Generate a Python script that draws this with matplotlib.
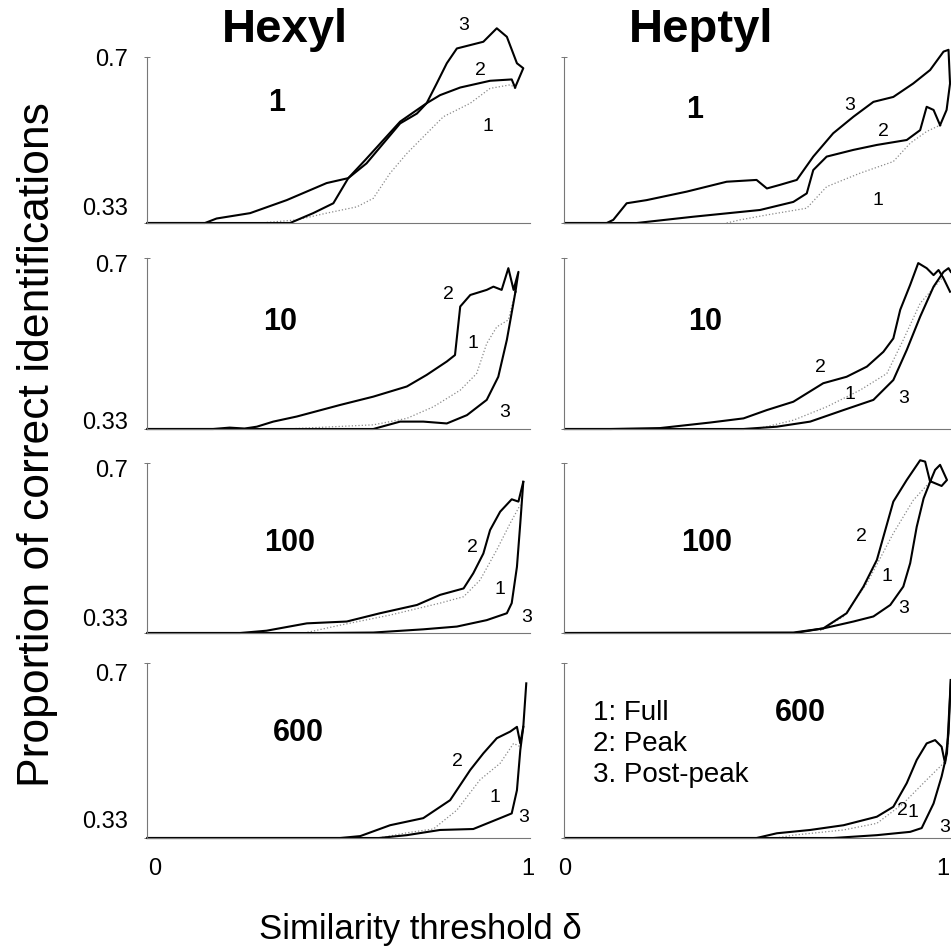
import numpy as np
import matplotlib.pyplot as plt

plt.rcParams['font.family'] = ['Liberation Sans', 'DejaVu Sans']

# ---- curves: (delta, proportion correct) ----
# row 1 (learning 1)
hex1_full = [(0.282, 0.33), (0.380, 0.337), (0.460, 0.352), (0.541, 0.366), (0.585, 0.385),
             (0.630, 0.441), (0.675, 0.485), (0.719, 0.522), (0.773, 0.567), (0.845, 0.597),
             (0.898, 0.630), (0.952, 0.638), (0.965, 0.632)]
hex1_peak = [(-0.02, 0.33), (0.134, 0.33), (0.165, 0.340), (0.255, 0.352), (0.353, 0.381),
             (0.460, 0.419), (0.518, 0.430), (0.567, 0.463), (0.657, 0.552), (0.702, 0.574),
             (0.728, 0.597), (0.764, 0.615), (0.818, 0.632), (0.898, 0.647), (0.956, 0.650),
             (0.965, 0.632)]
hex1_post = [(-0.02, 0.33), (0.362, 0.33), (0.424, 0.352), (0.478, 0.374), (0.518, 0.430),
             (0.563, 0.470), (0.657, 0.556), (0.728, 0.597), (0.755, 0.641), (0.782, 0.686),
             (0.809, 0.719), (0.880, 0.734), (0.916, 0.764), (0.943, 0.745), (0.970, 0.686),
             (0.987, 0.675), (0.965, 0.632)]

hep1_full = [(0.422, 0.33), (0.457, 0.337), (0.527, 0.348), (0.631, 0.363), (0.683, 0.411),
             (0.770, 0.441), (0.857, 0.467), (0.901, 0.508), (0.944, 0.534), (0.979, 0.548)]
hep1_peak = [(0, 0.33), (0.187, 0.33), (0.335, 0.344), (0.509, 0.359), (0.596, 0.377),
             (0.631, 0.396), (0.648, 0.448), (0.683, 0.478), (0.753, 0.493), (0.814, 0.504),
             (0.892, 0.515), (0.927, 0.537), (0.944, 0.589), (0.962, 0.582), (0.979, 0.548)]
hep1_post = [(0, 0.33), (0.109, 0.33), (0.126, 0.337), (0.161, 0.374), (0.213, 0.381),
             (0.318, 0.400), (0.422, 0.422), (0.500, 0.426), (0.527, 0.407), (0.561, 0.415),
             (0.605, 0.426), (0.648, 0.478), (0.700, 0.530), (0.753, 0.567), (0.805, 0.600),
             (0.857, 0.611), (0.909, 0.641), (0.953, 0.671), (0.988, 0.712), (1.001, 0.716),
             (1.005, 0.641), (0.996, 0.582), (0.979, 0.548)]

# row 2 (learning 10)
hex2_full = [(0.35, 0.33), (0.585, 0.339), (0.675, 0.353), (0.746, 0.378), (0.818, 0.414),
             (0.862, 0.450), (0.889, 0.515), (0.916, 0.551), (0.947, 0.566), (0.966, 0.627)]
hex2_peak = [(-0.02, 0.33), (0.156, 0.33), (0.200, 0.333), (0.240, 0.331), (0.273, 0.335),
             (0.317, 0.346), (0.380, 0.357), (0.496, 0.382), (0.585, 0.400), (0.675, 0.422),
             (0.728, 0.447), (0.782, 0.476), (0.804, 0.490), (0.818, 0.595), (0.845, 0.620),
             (0.889, 0.631), (0.907, 0.638), (0.929, 0.631), (0.947, 0.678), (0.961, 0.631),
             (0.974, 0.670), (0.966, 0.627)]
hex2_post = [(-0.02, 0.33), (0.585, 0.33), (0.657, 0.346), (0.719, 0.346), (0.782, 0.342),
             (0.836, 0.360), (0.889, 0.393), (0.920, 0.443), (0.943, 0.523), (0.966, 0.627)]

hep2_full = [(0.50, 0.33), (0.596, 0.349), (0.683, 0.378), (0.770, 0.414), (0.840, 0.450),
             (0.883, 0.523), (0.927, 0.602), (0.988, 0.660)]
hep2_peak = [(0, 0.33), (0.12, 0.33), (0.248, 0.332), (0.379, 0.344), (0.466, 0.353),
             (0.527, 0.371), (0.596, 0.389), (0.674, 0.429), (0.735, 0.443), (0.788, 0.465),
             (0.831, 0.497), (0.857, 0.526), (0.875, 0.588), (0.901, 0.642), (0.922, 0.689),
             (0.944, 0.678), (0.962, 0.663), (0.975, 0.674), (0.988, 0.656), (1.005, 0.627)]
hep2_post = [(0, 0.33), (0.466, 0.33), (0.553, 0.335), (0.640, 0.346), (0.727, 0.371),
             (0.805, 0.393), (0.857, 0.436), (0.892, 0.501), (0.927, 0.573), (0.962, 0.638),
             (0.988, 0.670), (1.001, 0.678), (1.007, 0.670)]

# row 3 (learning 100)
hex3_full = [(0.40, 0.33), (0.496, 0.347), (0.630, 0.369), (0.764, 0.395), (0.827, 0.409),
             (0.871, 0.445), (0.916, 0.511), (0.952, 0.569), (0.979, 0.609)]
hex3_peak = [(-0.02, 0.33), (0.228, 0.33), (0.299, 0.335), (0.407, 0.351), (0.514, 0.355),
             (0.603, 0.373), (0.702, 0.391), (0.764, 0.413), (0.827, 0.427), (0.853, 0.460),
             (0.880, 0.503), (0.898, 0.554), (0.925, 0.594), (0.956, 0.621), (0.974, 0.616),
             (0.987, 0.659)]
hex3_post = [(-0.02, 0.33), (0.442, 0.33), (0.585, 0.331), (0.719, 0.338), (0.809, 0.344),
             (0.889, 0.358), (0.943, 0.373), (0.956, 0.395), (0.970, 0.474), (0.979, 0.569),
             (0.987, 0.659)]

hep3_full = [(0.666, 0.335), (0.727, 0.366), (0.788, 0.438), (0.857, 0.547), (0.909, 0.619),
             (0.953, 0.659)]
hep3_peak = [(0, 0.33), (0.596, 0.331), (0.674, 0.340), (0.735, 0.373), (0.779, 0.431),
             (0.814, 0.489), (0.857, 0.616), (0.892, 0.663), (0.927, 0.706), (0.940, 0.703),
             (0.953, 0.659)]
hep3_post = [(0, 0.33), (0.60, 0.33), (0.674, 0.340), (0.753, 0.355), (0.805, 0.366),
             (0.849, 0.391), (0.883, 0.431), (0.901, 0.482), (0.918, 0.561), (0.936, 0.623),
             (0.953, 0.659), (0.966, 0.685), (0.979, 0.696), (0.997, 0.663), (0.983, 0.650),
             (0.957, 0.659)]

# row 4 (learning 600)
hex4_full = [(0.60, 0.33), (0.675, 0.341), (0.746, 0.349), (0.809, 0.389), (0.871, 0.453),
             (0.925, 0.488), (0.961, 0.530), (0.979, 0.523)]
hex4_peak = [(-0.02, 0.33), (0.496, 0.33), (0.550, 0.334), (0.630, 0.357), (0.719, 0.372),
             (0.791, 0.410), (0.845, 0.474), (0.880, 0.509), (0.916, 0.541), (0.952, 0.555),
             (0.970, 0.565), (0.979, 0.530), (0.987, 0.565), (0.995, 0.657)]
hex4_post = [(-0.02, 0.33), (0.60, 0.33), (0.675, 0.336), (0.764, 0.347), (0.853, 0.349),
             (0.925, 0.372), (0.956, 0.382), (0.970, 0.431), (0.979, 0.516), (0.987, 0.565)]

hep4_full = [(0.55, 0.33), (0.596, 0.336), (0.727, 0.347), (0.814, 0.361), (0.883, 0.403),
             (0.944, 0.453), (0.988, 0.488), (1.001, 0.530)]
hep4_peak = [(0, 0.33), (0.50, 0.33), (0.553, 0.340), (0.640, 0.347), (0.727, 0.357),
             (0.814, 0.375), (0.857, 0.396), (0.892, 0.446), (0.918, 0.495), (0.944, 0.530),
             (0.966, 0.537), (0.983, 0.523), (0.992, 0.488), (1.001, 0.551), (1.007, 0.664)]
hep4_post = [(0, 0.33), (0.70, 0.33), (0.814, 0.336), (0.901, 0.343), (0.931, 0.351),
             (0.962, 0.403), (0.983, 0.460), (0.997, 0.509), (1.007, 0.664)]

columns = ['Hexyl', 'Heptyl']
learning = ['1', '10', '100', '600']
curves = [[(hex1_full, hex1_peak, hex1_post), (hep1_full, hep1_peak, hep1_post)],
          [(hex2_full, hex2_peak, hex2_post), (hep2_full, hep2_peak, hep2_post)],
          [(hex3_full, hex3_peak, hex3_post), (hep3_full, hep3_peak, hep3_post)],
          [(hex4_full, hex4_peak, hex4_post), (hep4_full, hep4_peak, hep4_post)]]
legend_lines = ['1: Full', '2: Peak', '3. Post-peak']

# ---- layout (pixels of the 951 px canvas) ----
W = 951.0
rows_px = [(57, 223), (258, 429), (463, 633), (663, 838)]
cols_px = [(147, 530, -0.0214, 1.005), (564, 960, -0.0026, 1.031)]
num_pos = [[(277, 103), (695, 110)], [(280, 322), (705, 322)],
           [(290, 543), (707, 543)], [(298, 733), (800, 713)]]
tick07_y = [60, 266, 471, 675]
tick033_y = [209, 423, 620, 822]
# curve-number label spots (data coords) for curves 1, 2, 3
lab_pos = [[[(0.893, 0.544), (0.871, 0.671), (0.826, 0.771)],
            [(0.817, 0.381), (0.830, 0.533), (0.744, 0.593)]],
           [[(0.853, 0.516), (0.786, 0.620), (0.938, 0.365)],
            [(0.744, 0.404), (0.666, 0.462), (0.883, 0.397)]],
           [[(0.925, 0.424), (0.850, 0.517), (0.997, 0.363)],
            [(0.841, 0.452), (0.775, 0.539), (0.883, 0.384)]],
           [[(0.912, 0.415), (0.810, 0.491), (0.987, 0.374)],
            [(0.909, 0.383), (0.880, 0.389), (0.992, 0.353)]]]

fig = plt.figure(figsize=(9.51, 9.51), dpi=100)

def px(x, y):
    return x / W, 1 - y / W

spine_col = '#777777'
for r, (top, bot) in enumerate(rows_px):
    for c, (left, right, x0, x1) in enumerate(cols_px):
        ax = fig.add_axes([left / W, 1 - bot / W, (right - left) / W, (bot - top) / W])
        ax.set_xlim(x0, x1)
        ax.set_ylim(0.33, 0.7)
        full, peak, post = curves[r][c]
        for data, style in [(full, dict(color='#8a8a8a', lw=0.9, ls=':')),
                            (peak, dict(color='black', lw=1.5)),
                            (post, dict(color='black', lw=1.5))]:
            xs = [p[0] for p in data]
            ys = [p[1] for p in data]
            ax.plot(xs, ys, clip_on=False, solid_joinstyle='round', **style)
        for k, (lx, ly) in enumerate(lab_pos[r][c]):
            ax.text(lx, ly, str(k + 1), fontsize=14, ha='center', va='center')
        for s in ['top', 'right']:
            ax.spines[s].set_visible(False)
        for s in ['left', 'bottom']:
            ax.spines[s].set_color(spine_col)
            ax.spines[s].set_linewidth(0.8)
        ax.set_xticks([])
        ax.set_yticks([0.33, 0.7])
        ax.tick_params(axis='y', direction='inout', length=5, width=0.7,
                       color=spine_col, labelleft=False)
        ax.patch.set_visible(False)
        nx, ny = num_pos[r][c]
        fig.text(*px(nx, ny), learning[r], fontsize=22, fontweight='bold',
                 ha='center', va='center')
    fig.text(*px(128, tick07_y[r]), '0.7', fontsize=17, ha='right', va='center')
    fig.text(*px(128, tick033_y[r]), '0.33', fontsize=17, ha='right', va='center')

# column titles
fig.text(*px(285, 30), columns[0], fontsize=34, fontweight='bold', ha='center', va='center')
fig.text(*px(701, 30), columns[1], fontsize=34, fontweight='bold', ha='center', va='center')

# x tick labels
for xp, t in [(155, '0'), (528, '1'), (565, '0'), (943, '1')]:
    fig.text(*px(xp, 869), t, fontsize=17, ha='center', va='center')

# legend text
for i, t in enumerate(legend_lines):
    fig.text(*px(593, 713 + 31 * i), t, fontsize=20, ha='left', va='center')

fig.text(*px(420, 930), 'Similarity threshold δ', fontsize=25, ha='center', va='center')
fig.text(*px(38, 445), 'Proportion of correct identifications', fontsize=32,
         rotation=90, ha='center', va='center')

fig.savefig('out.png', dpi=100)
